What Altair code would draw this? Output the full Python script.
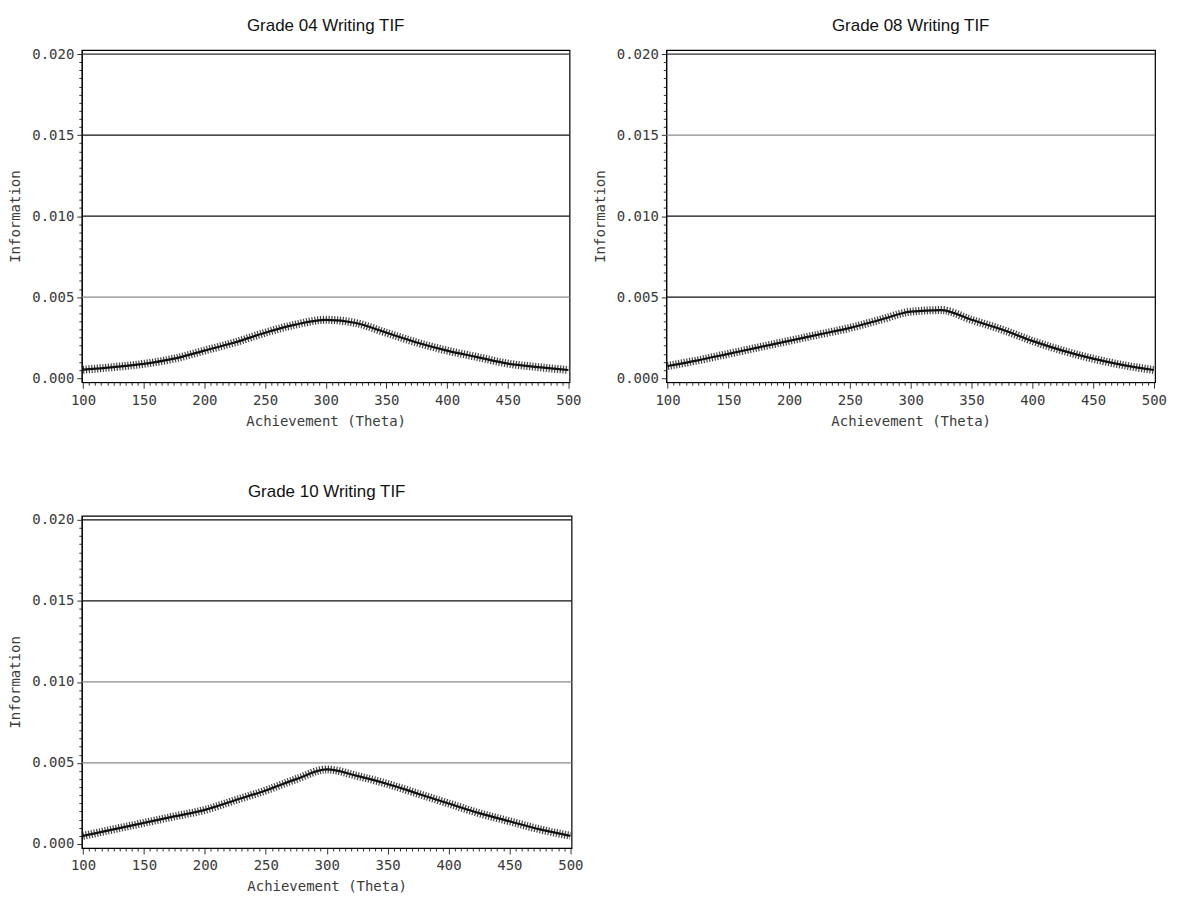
import altair as alt
import pandas as pd

theta = [100, 125, 150, 175, 200, 225, 250, 275, 300, 325, 350, 375, 400, 425, 450, 475, 500]
g04 = [0.00052, 0.00068, 0.00088, 0.0012, 0.0017, 0.0022, 0.0028, 0.0033, 0.0036, 0.0034, 0.0028, 0.0022, 0.0017, 0.0013, 0.0009, 0.00068, 0.0005]
g08 = [0.00075, 0.0011, 0.0015, 0.0019, 0.0023, 0.0027, 0.0031, 0.0036, 0.0041, 0.0042, 0.0036, 0.0030, 0.0023, 0.0017, 0.0012, 0.0008, 0.0005]
g10 = [0.0005, 0.0009, 0.0013, 0.0017, 0.0021, 0.0027, 0.0033, 0.0040, 0.0046, 0.0042, 0.0037, 0.0031, 0.0025, 0.0019, 0.0014, 0.0009, 0.0005]

ref_values = [0.005, 0.010, 0.015, 0.020]
ref_colors_04 = ["#8a8a8a", "#111111", "#111111", "#333333"]
ref_colors_08 = ["#111111", "#111111", "#8a8a8a", "#333333"]
ref_colors_10 = ["#8a8a8a", "#8a8a8a", "#111111", "#111111"]

x_ticks = list(range(100, 505, 5))
y_ticks = [round(i * 0.0005, 4) for i in range(0, 41)]

FONT = "DejaVu Sans Mono"
TXT = "#3a3a3a"


def panel(title, values, ref_colors, width, height):
    df = pd.DataFrame({"theta": theta, "info": values})
    refs = pd.DataFrame({"v": ref_values, "c": ref_colors})
    xscale = alt.Scale(domain=[99, 501], nice=False, zero=False)
    yscale = alt.Scale(domain=[-0.00025, 0.02025], nice=False, zero=False)
    xaxis = alt.Axis(
        title="Achievement (Theta)", values=x_ticks, grid=False,
        labelExpr="datum.value % 50 == 0 ? datum.value : ''",
        tickSize={"condition": {"test": "datum.value % 50 == 0", "value": 6}, "value": 3},
        tickColor="#333", domainColor="#000", labelFont=FONT, labelFontSize=14,
        labelColor=TXT, titleFont=FONT, titleFontSize=14, titleFontWeight="normal",
        titleColor=TXT, labelPadding=5, titlePadding=7, labelFlush=False,
        labelOverlap=False,
    )
    yaxis = alt.Axis(
        title="Information", values=y_ticks, grid=False,
        labelExpr="round(datum.value*10000) % 50 == 0 ? format(datum.value, '.3f') : ''",
        tickSize={"condition": {"test": "round(datum.value*10000) % 50 == 0", "value": 5}, "value": 3},
        tickColor="#333", domainColor="#000", labelFont=FONT, labelFontSize=14,
        labelColor=TXT, titleFont=FONT, titleFontSize=14, titleFontWeight="normal",
        titleColor=TXT, labelPadding=3, titlePadding=9, labelFlush=False,
        labelOverlap=False,
    )
    rules = alt.Chart(refs).mark_rule(strokeWidth=1.2).encode(
        y=alt.Y("v:Q", scale=yscale, axis=yaxis),
        color=alt.Color("c:N", scale=None),
    )
    base = alt.Chart(df).encode(
        x=alt.X("theta:Q", scale=xscale, axis=xaxis),
        y=alt.Y("info:Q", scale=yscale, axis=yaxis),
    )
    core = base.mark_line(color="#111", strokeWidth=2.2, interpolate="monotone")
    hatch = base.mark_line(color="#222", strokeWidth=8, strokeDash=[1.2, 1.6],
                           interpolate="monotone", opacity=0.85)
    return alt.layer(rules, hatch, core).properties(
        width=width, height=height,
        title=alt.TitleParams(title, font="Liberation Sans", fontSize=17,
                              fontWeight="normal", color="#111", offset=12),
    )


p1 = panel("Grade 04 Writing TIF", g04, ref_colors_04, 489, 333)
p2 = panel("Grade 08 Writing TIF", g08, ref_colors_08, 490, 333)
p3 = panel("Grade 10 Writing TIF", g10, ref_colors_10, 491, 333)

chart = alt.vconcat(
    alt.hconcat(p1, p2, spacing=7),
    p3,
    spacing=53,
).properties(
    padding={"left": 0, "right": 0, "top": 7, "bottom": 0}
).configure(background="white").configure_view(
    stroke="#000", strokeWidth=1.2
)

chart.save("out.html", embed_options={"renderer": "svg", "actions": False})
